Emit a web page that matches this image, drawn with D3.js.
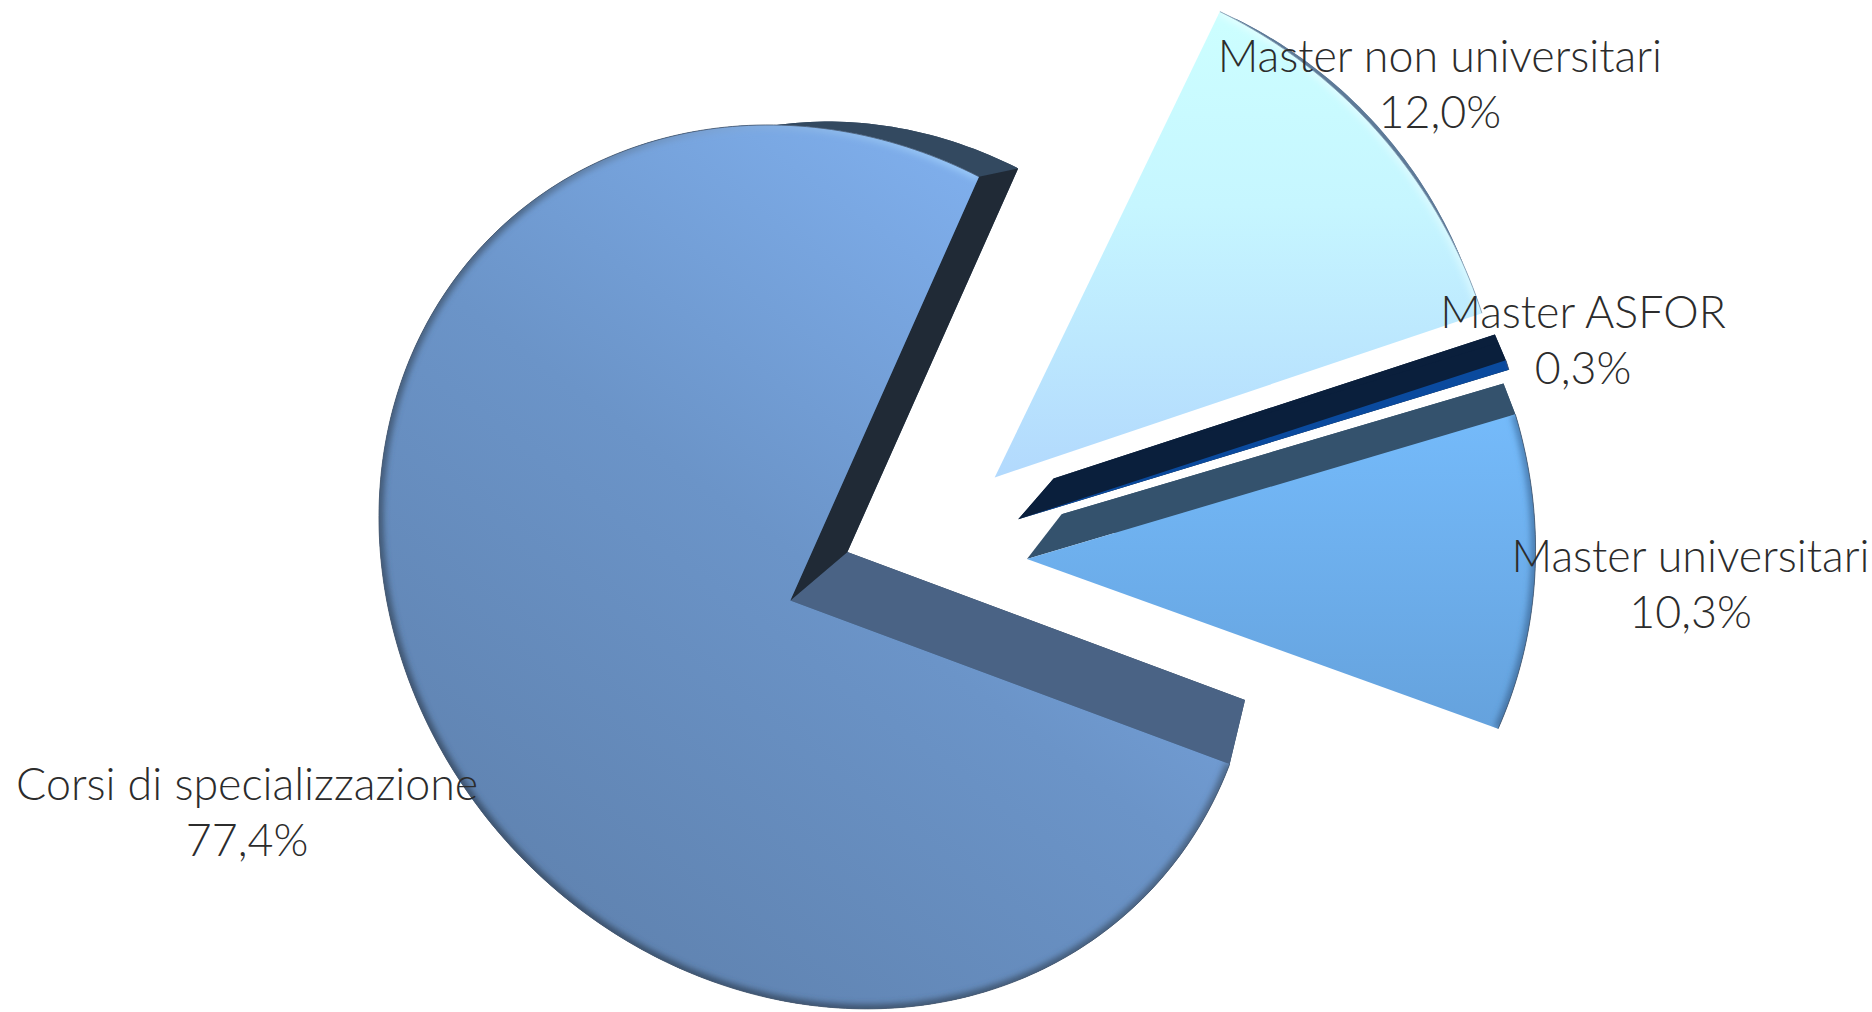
<!DOCTYPE html>
<html><head><meta charset="utf-8">
<script src="https://cdn.jsdelivr.net/npm/d3@7"></script>
<style>html,body{margin:0;background:#fff}svg{display:block}</style></head>
<body><svg id="c" width="1872" height="1012"></svg>
<script>
const categories=["Corsi di specializzazione","Master non universitari","Master ASFOR","Master universitari"];
const values=[77.4,12.0,0.3,10.3];
const valueLabels=["77,4%","12,0%","0,3%","10,3%"];
const explodeRadius=[0,0.547,0.55,0.541];
const explodeDeg=[0,57.6,68,77];
const labelX=[207,1206,1326,1416];
const labelY=[670,60,275,479];
const startDeg=107.66;
const scale=1872/1568;
// perspective of the disc: disc point -> picture point
const src=[[0,0],polar(26.3),polar(107.66),polar(247)];
const dst=[[662,503],[820,148],[1030,640],[363,616]];
const vanish=[1165,75],depth=0.095;
function polar(deg,r=1){const t=deg*Math.PI/180;return [r*Math.sin(t),-r*Math.cos(t)];}
function solve(A,b){const n=b.length;A=A.map((r,i)=>[...r,b[i]]);
 for(let i=0;i<n;i++){let m=i;for(let k=i;k<n;k++)if(Math.abs(A[k][i])>Math.abs(A[m][i]))m=k;[A[i],A[m]]=[A[m],A[i]];
  for(let k=0;k<n;k++)if(k!==i){const f=A[k][i]/A[i][i];for(let j=i;j<=n;j++)A[k][j]-=f*A[i][j];}}
 return A.map((r,i)=>r[n]/r[i]);}
const M=[],B=[];src.forEach((s,i)=>{const[x,y]=s,[u,v]=dst[i];
 M.push([x,y,1,0,0,0,-u*x,-u*y]);B.push(u);M.push([0,0,0,x,y,1,-v*x,-v*y]);B.push(v);});
const h=solve(M,B);
const front=([x,y])=>{const w=h[6]*x+h[7]*y+1;return [(h[0]*x+h[1]*y+h[2])/w,(h[3]*x+h[4]*y+h[5])/w];};
const back=p=>{const f=front(p);return [f[0]+depth*(vanish[0]-f[0]),f[1]+depth*(vanish[1]-f[1])];};

const svg=d3.select("#c");
const defs=svg.append("defs");
function grad(id,x1,y1,x2,y2,stops){const g=defs.append("linearGradient").attr("id",id).attr("gradientUnits","userSpaceOnUse")
 .attr("x1",x1).attr("y1",y1).attr("x2",x2).attr("y2",y2);
 stops.forEach(([o,c])=>g.append("stop").attr("offset",o).attr("stop-color",c));}
grad("g0",340,780,830,130,[[0,"#5d7fab"],[.55,"#6b94c8"],[1,"#80b0ee"]]);
grad("g1",1000,20,1000,400,[[0,"#ccfeff"],[.4,"#c6f6ff"],[1,"#b2d9fd"]]);
grad("g2",1000,30,1000,400,[[0,"#0a4a9e"],[1,"#0a4a9e"]]);
grad("g3",1100,340,1100,610,[[0,"#75bbfb"],[1,"#65a2dd"]]);
grad("r0",340,780,830,130,[[0,"#34475f"],[.66,"#4a6483"],[.86,"#7ea6d8"],[1,"#9fd0ff"]]);
grad("r1",1000,20,1200,260,[[0,"#e2ffff"],[1,"#d8f8ff"]]);
grad("r2",1000,20,1200,260,[[0,"#0a4a9e"],[1,"#0a4a9e"]]);
grad("r3",1280,340,1260,610,[[0,"#4a80b5"],[1,"#426f9f"]]);
const blur=defs.append("filter").attr("id","soft").attr("x","-20%").attr("y","-20%").attr("width","140%").attr("height","140%");
blur.append("feGaussianBlur").attr("stdDeviation",2.6);

const arcs=d3.pie().sort(null).value(d=>d).startAngle(startDeg*Math.PI/180).endAngle((startDeg+360)*Math.PI/180)(values);
const line=d3.line();
const wallStart=["#4a6385","none","#0a1f3c","#34526d"];
const wallEnd=["#202a36","none","#0a1f3c","none"];
const wallOuter=["#334960","#5d7a98","#0a1f3c","#34526d"];

const root=svg.append("g").attr("transform",`scale(${scale})`);
const slices=arcs.map((a,i)=>{
 const off=polar(explodeDeg[i],explodeRadius[i]);
 const deg0=a.startAngle*180/Math.PI,deg1=a.endAngle*180/Math.PI;
 const steps=Math.max(4,Math.ceil(deg1-deg0));
 const rim=d3.range(steps+1).map(k=>{const p=polar(deg0+(deg1-deg0)*k/steps);return [p[0]+off[0],p[1]+off[1]];});
 return {i,off,rim};
});
slices.forEach(s=>{
 const g=root.append("g");
 g.append("path").attr("d",line([back(s.off),...s.rim.map(back)])+"Z").attr("fill",wallOuter[s.i]);
 const rf=s.rim.map(front),rb=s.rim.map(back);
 g.append("path").attr("d",line([...rf,...rb.slice().reverse()])+"Z").attr("fill",wallOuter[s.i]);
 if(wallStart[s.i]!=="none")g.append("path").attr("d",line([front(s.off),back(s.off),rb[0],rf[0]])+"Z").attr("fill",wallStart[s.i]);
 if(wallEnd[s.i]!=="none")g.append("path").attr("d",line([front(s.off),back(s.off),rb[rb.length-1],rf[rf.length-1]])+"Z").attr("fill",wallEnd[s.i]);
});
slices.forEach(s=>{
 const d=line([front(s.off),...s.rim.map(front)])+"Z";
 root.append("clipPath").attr("id","cp"+s.i).append("path").attr("d",d);
 root.append("path").attr("d",d).attr("fill",`url(#g${s.i})`);
 const g=root.append("g").attr("clip-path",`url(#cp${s.i})`);
 g.append("path").attr("d",line(s.rim.map(front))).attr("fill","none").attr("stroke",`url(#r${s.i})`)
  .attr("stroke-width",7).attr("filter","url(#soft)");
 root.append("path").attr("d",line(s.rim.map(front))).attr("fill","none")
  .attr("stroke",s.i===1?"#7f97ad":"#46586e").attr("stroke-width",0.8).attr("stroke-opacity",.85);
});
const tg=root.append("g").attr("font-family","Lato").attr("font-weight",300).attr("font-size",37.5)
 .attr("fill","#2c2c2c").attr("text-anchor","middle");
categories.forEach((c,i)=>{
 tg.append("text").attr("x",labelX[i]).attr("y",labelY[i]).text(c);
 tg.append("text").attr("x",labelX[i]).attr("y",labelY[i]+47).text(valueLabels[i]);
});
</script></body></html>
